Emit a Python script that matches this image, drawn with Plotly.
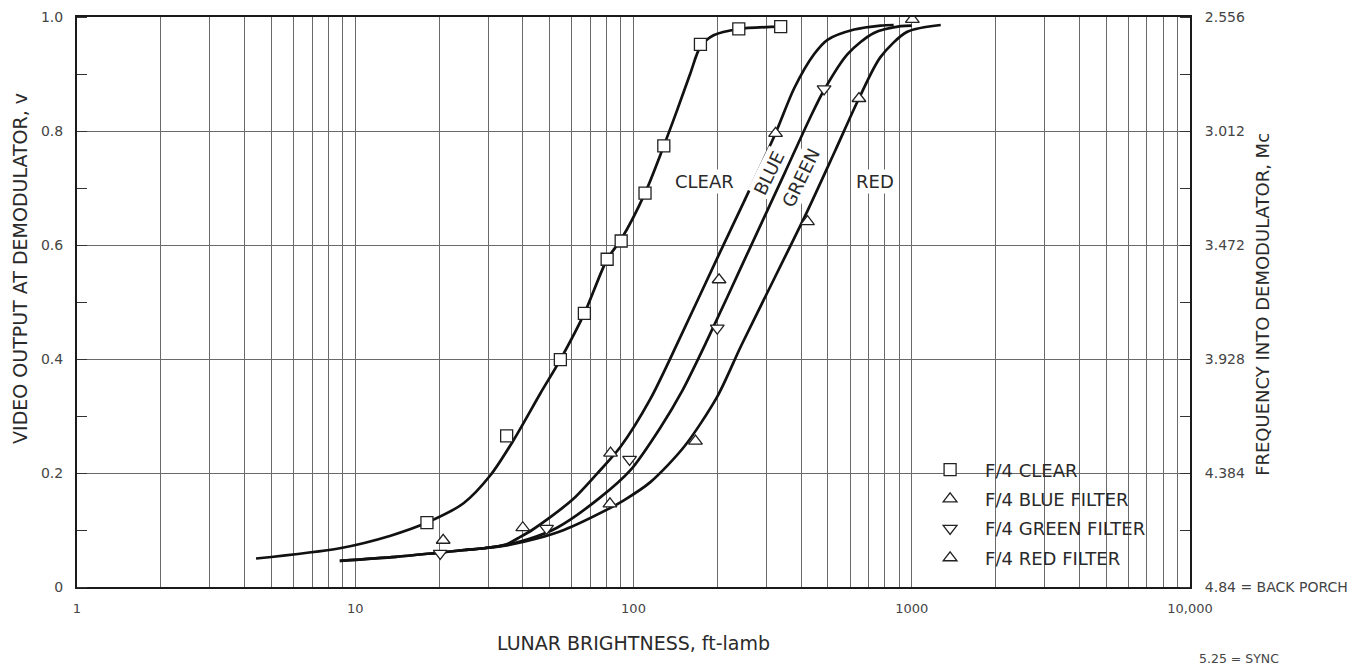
import math
import plotly.graph_objects as go

# ---- marker data ----
clear_x = [18.1, 35, 54.6, 66.6, 80.4, 90.3, 110, 128.5, 174, 239, 338]
clear_y = [0.113, 0.265, 0.399, 0.480, 0.575, 0.607, 0.691, 0.774, 0.952, 0.979, 0.983]
blue_x = [20.7, 40, 82.7, 203, 324]
blue_y = [0.082, 0.104, 0.235, 0.539, 0.796]
green_x = [20.2, 48.7, 96.8, 200, 484]
green_y = [0.059, 0.103, 0.224, 0.454, 0.874]
red_x = [82.3, 167, 422, 646, 1005]
red_y = [0.146, 0.256, 0.641, 0.857, 0.996]

# ---- faired curves ----
clear_curve_x = [4.4, 8.8, 13.4, 18.1, 24.5, 30.6, 37.1, 46.3, 54.6, 66.6, 80.4, 90.3, 110, 128.5, 143.6, 160, 174, 194, 239, 338]
clear_curve_y = [0.050, 0.068, 0.090, 0.113, 0.147, 0.196, 0.258, 0.340, 0.399, 0.480, 0.575, 0.610, 0.691, 0.774, 0.837, 0.901, 0.948, 0.968, 0.979, 0.983]
blue_curve_x = [8.8, 14, 19.7, 25, 29, 35, 39.2, 43.2, 60, 74, 89.8, 115, 145.6, 200, 250, 324, 378, 446, 498, 621, 773, 861]
blue_curve_y = [0.046, 0.053, 0.060, 0.065, 0.068, 0.075, 0.088, 0.100, 0.152, 0.199, 0.246, 0.330, 0.433, 0.577, 0.677, 0.796, 0.875, 0.935, 0.960, 0.978, 0.985, 0.986]
green_curve_x = [8.8, 14, 19.7, 25, 29, 35, 42, 53.1, 75, 97.5, 125, 150, 184, 250, 350, 430, 484, 588, 731, 913, 1000]
green_curve_y = [0.046, 0.053, 0.060, 0.065, 0.068, 0.074, 0.084, 0.104, 0.155, 0.205, 0.280, 0.345, 0.433, 0.573, 0.727, 0.822, 0.872, 0.935, 0.972, 0.984, 0.985]
red_curve_x = [25, 29, 35, 45, 56.2, 82, 92.3, 115, 152, 200, 243, 294, 422, 530, 646, 773, 964, 1271]
red_curve_y = [0.065, 0.068, 0.073, 0.085, 0.100, 0.138, 0.152, 0.184, 0.246, 0.334, 0.422, 0.504, 0.660, 0.765, 0.857, 0.930, 0.974, 0.986]

# ---- axis labels ----
x_decades = [1, 10, 100, 1000, 10000]
x_decade_labels = ["1", "10", "100", "1000", "10,000"]
y_left_vals = [0, 0.2, 0.4, 0.6, 0.8, 1.0]
y_left_labels = ["0", "0.2", "0.4", "0.6", "0.8", "1.0"]
y_right_labels = ["4.84 = BACK PORCH", "4.384", "3.928", "3.472", "3.012", "2.556"]

x_grid = []
x_grid_text = []
for d in x_decades[:-1]:
    for m in range(1, 10):
        x_grid.append(d * m)
        x_grid_text.append(x_decade_labels[x_decades.index(d)] if m == 1 else "")
x_grid.append(x_decades[-1])
x_grid_text.append(x_decade_labels[-1])

FONT = "DejaVu Sans"
INK = "#2a2a2a"
GRID = "#6a6a6a"

fig = go.Figure()

line_style = dict(color="#111", width=2.7, shape="spline", smoothing=0.8)
for cx, cy in [(clear_curve_x, clear_curve_y), (blue_curve_x, blue_curve_y),
               (green_curve_x, green_curve_y), (red_curve_x, red_curve_y)]:
    fig.add_trace(go.Scatter(x=cx, y=cy, mode="lines", line=line_style,
                             showlegend=False, hoverinfo="skip"))

mk = dict(color="white", size=12, line=dict(color="#222", width=1.3))
series = [
    ("F/4 CLEAR", clear_x, clear_y, "square"),
    ("F/4 BLUE FILTER", blue_x, blue_y, "triangle-up"),
    ("F/4 GREEN FILTER", green_x, green_y, "triangle-down"),
    ("F/4 RED FILTER", red_x, red_y, "triangle-up"),
]
for i, (name, xs, ys, sym) in enumerate(series):
    fig.add_trace(go.Scatter(x=xs, y=ys, mode="markers", name=name,
                             marker=dict(symbol=sym, **mk), legendgroup=f"g{i}"))

# invisible helper so the right axis is drawn
fig.add_trace(go.Scatter(x=[x_decades[0]], y=[0], yaxis="y2", mode="markers",
                         marker=dict(opacity=0), showlegend=False, hoverinfo="skip"))

axis_common = dict(showline=True, linecolor="#1a1a1a", linewidth=2, mirror=True,
                   zeroline=False, automargin=False)

fig.update_layout(
    width=1357, height=668, autosize=False,
    margin=dict(l=77, r=167, t=17, b=81),
    paper_bgcolor="white", plot_bgcolor="white",
    font=dict(family=FONT, color=INK),
    xaxis=dict(type="log", range=[0, 4], tickvals=x_grid, ticktext=x_grid_text,
               showgrid=True, gridcolor=GRID, gridwidth=1, ticks="",
               ticklabelstandoff=8,
               tickfont=dict(family=FONT, size=13, color="#444"), **axis_common),
    yaxis=dict(range=[0, 1.0], tickvals=y_left_vals, ticktext=y_left_labels,
               showgrid=True, gridcolor=GRID, gridwidth=1, ticks="",
               ticklabelstandoff=9,
               tickfont=dict(family=FONT, size=14, color="#444"),
               minor=dict(dtick=0.1, ticks="inside", ticklen=10, tickcolor="#333",
                          tickwidth=1, showgrid=False),
               **axis_common),
    yaxis2=dict(range=[0, 1.0], overlaying="y", side="right", tickvals=y_left_vals,
                ticktext=y_right_labels, showgrid=False, ticks="",
                ticklabelstandoff=10, automargin=False,
                minor=dict(dtick=0.1, ticks="inside", ticklen=10, tickcolor="#333",
                           tickwidth=1, showgrid=False),
                showline=True, linecolor="#1a1a1a", linewidth=2, zeroline=False,
                tickfont=dict(family=FONT, size=14, color="#444")),
    legend=dict(x=0.753, y=0.238, xanchor="left", yanchor="top", itemwidth=60,
                bgcolor="rgba(0,0,0,0)", traceorder="grouped", tracegroupgap=3,
                font=dict(family=FONT, size=18, color=INK)),
    shapes=[dict(type="rect", xref="paper", yref="paper", x0=0.754, x1=0.991,
                 y0=0.012, y1=0.268, fillcolor="white", line=dict(width=0),
                 layer="between")],
    showlegend=True,
)

ann_font = dict(family=FONT, size=18, color=INK)
fig.add_annotation(x=math.log10(180), y=0.711, text="CLEAR", showarrow=False,
                   font=ann_font, bgcolor="white")
fig.add_annotation(x=math.log10(306), y=0.726, text="BLUE", showarrow=False,
                   font=ann_font, textangle=-64, bgcolor="white")
fig.add_annotation(x=math.log10(399), y=0.719, text="GREEN", showarrow=False,
                   font=ann_font, textangle=-64, bgcolor="white")
fig.add_annotation(x=math.log10(735), y=0.711, text="RED", showarrow=False,
                   font=ann_font, bgcolor="white")

title_font = dict(family=FONT, size=19, color=INK)
fig.add_annotation(xref="paper", yref="paper", x=0.5, y=-0.098, yanchor="middle",
                   text="LUNAR BRIGHTNESS, ft-lamb", showarrow=False, font=title_font)
fig.add_annotation(xref="paper", yref="paper", x=-0.0512, y=0.558, xanchor="center",
                   yanchor="middle", text="VIDEO OUTPUT AT DEMODULATOR, v",
                   textangle=-90, showarrow=False, font=title_font)
fig.add_annotation(xref="paper", yref="paper", x=1.0656, y=0.495, xanchor="center",
                   yanchor="middle", text="FREQUENCY INTO DEMODULATOR, Mc",
                   textangle=-90, showarrow=False,
                   font=dict(family=FONT, size=18, color=INK))
fig.add_annotation(xref="paper", yref="paper", x=1.0063, y=-0.125, xanchor="left",
                   yanchor="middle", text="5.25 = SYNC", showarrow=False,
                   font=dict(family=FONT, size=12.5, color="#444"))

fig.write_html("out.html", config={"displayModeBar": False},
               post_script="document.body.style.margin='0';")
